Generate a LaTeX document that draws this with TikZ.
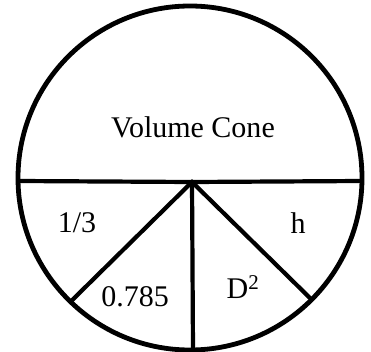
\documentclass[tikz,border=0pt]{standalone}
\usepackage{fontspec}
\setmainfont{Liberation Serif}
\usepackage{tikz}

\begin{document}
\begin{tikzpicture}[x=1pt,y=1pt,
  rim/.style={draw,circle,line width=4.8pt,minimum size=344pt,inner sep=0pt,outer sep=0pt},
  cut/.style={line width=4.2pt},
  lbl/.style={font=\fontsize{30}{36}\selectfont},
]
\useasboundingbox (0,0) rectangle (371,351);
\begin{scope}
\clip (0,0) rectangle (371,351);
% outer circle
\node[rim] (disc) at (190,173) {};
% centre point of the cuts
\coordinate (apex) at (192,169);
% dividing lines
\draw[cut] (disc.181) -- (apex) -- (disc.-1.3);
\draw[cut] (disc.226) -- (apex) -- (disc.-45);
\draw[cut] (apex) -- (disc.-89.3);
\end{scope}
% labels
\node[lbl] (vol) at (193,224) {Volume Cone};
\node[lbl] (third) at (77,128) {1/3};
\node[lbl] (hgt) at (298,128) {h};
\node[lbl] (pif) at (135,54) {0.785};
\node[lbl] (dsq) at (243,64) {D\textsuperscript{2}};
\end{tikzpicture}
\end{document}
